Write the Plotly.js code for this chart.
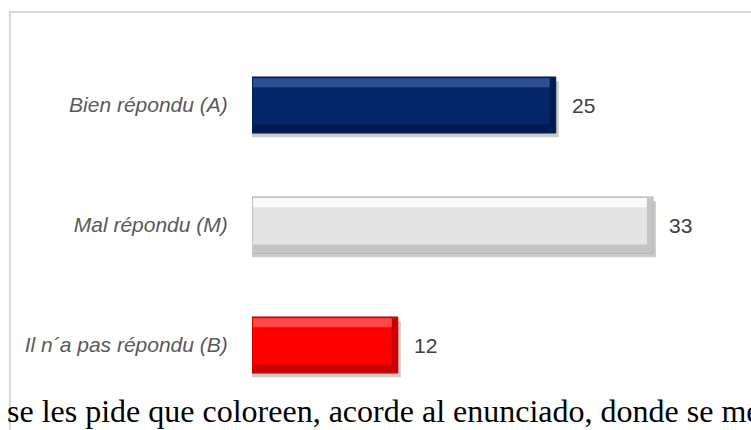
<!DOCTYPE html>
<html>
<head>
<meta charset="utf-8">
<script src="https://cdn.plot.ly/plotly-3.0.1.min.js"></script>
<style>
  html, body { margin: 0; padding: 0; background: #ffffff; }
  #chart { width: 751px; height: 430px; }
</style>
</head>
<body>
<div id="chart"></div>
<script>
// ---- data ----
const categories = ["Bien répondu (A)", "Mal répondu (M)", "Il n´a pas répondu (B)"];
const values = [25, 33, 12];
const footerText = "se les pide que coloreen, acorde al enunciado, donde se me";

// ---- styles ----
const mainColors   = ["#05266b", "#e4e4e4", "#ff0000"];
const topColors    = ["#2d4f90", "#fbfbfb", "#ff4a4a"];
const bottomColors = ["#021b4d", "#c4c4c4", "#c80000"];
const edgeColors   = ["#021a4a", "#a6a6a6", "#b00000"];

const W = 0.467;          // bar thickness (category units)
const H = -W / 2;         // offset
const bevel = 0.45;       // right bevel width in value units

const traces = [];
// shadow
traces.push({
  type: 'bar', orientation: 'h', y: categories, x: values.map(v => v + 0.25),
  width: W, offset: H + 0.035,
  marker: { color: 'rgba(0,0,0,0.2)', line: { width: 0 } },
  hoverinfo: 'skip', showlegend: false
});
// main bar
traces.push({
  type: 'bar', orientation: 'h', y: categories, x: values,
  width: W, offset: H,
  marker: { color: mainColors, line: { color: edgeColors, width: 1 } },
  hoverinfo: 'x+y', showlegend: false
});
// top highlight
traces.push({
  type: 'bar', orientation: 'h', y: categories, x: values.map(v => v - 0.2),
  base: values.map(() => 0.1),
  width: 0.075, offset: H + 0.01,
  marker: { color: topColors, line: { width: 0 } },
  hoverinfo: 'skip', showlegend: false
});
// bottom shade
traces.push({
  type: 'bar', orientation: 'h', y: categories, x: values.map(v => v - 0.2),
  base: values.map(() => 0.1),
  width: 0.06, offset: -H - 0.07,
  marker: { color: bottomColors, line: { width: 0 } },
  hoverinfo: 'skip', showlegend: false
});
// right shade
traces.push({
  type: 'bar', orientation: 'h', y: categories, x: values.map(() => bevel),
  base: values.map(v => v - bevel - 0.05),
  width: W - 0.02, offset: H + 0.01,
  marker: { color: bottomColors, line: { width: 0 } },
  hoverinfo: 'skip', showlegend: false
});

const annotations = categories.map((c, i) => ({
  x: values[i], y: c, xref: 'x', yref: 'y',
  text: String(values[i]), showarrow: false,
  xanchor: 'left', xshift: 14,
  font: { family: 'Liberation Sans, Arial, sans-serif', size: 21, color: '#404040' }
}));
annotations.push({
  xref: 'paper', yref: 'paper', x: -0.508, y: -0.018,
  xanchor: 'left', yanchor: 'middle', showarrow: false,
  text: footerText,
  font: { family: 'Liberation Serif, Times New Roman, serif', size: 32, color: '#000000' }
});

const layout = {
  width: 751, height: 430,
  margin: { l: 252, r: 13, t: 45, b: 25, pad: 0 },
  paper_bgcolor: '#ffffff', plot_bgcolor: 'rgba(0,0,0,0)',
  barmode: 'overlay',
  showlegend: false,
  xaxis: {
    range: [0, 40], visible: false, fixedrange: true
  },
  yaxis: {
    type: 'category', categoryorder: 'array', categoryarray: categories,
    autorange: 'reversed',
    showgrid: false, zeroline: false, showline: false,
    ticks: 'outside', ticklen: 19, tickcolor: 'rgba(0,0,0,0)',
    tickfont: { family: 'Liberation Sans, Arial, sans-serif', size: 21, color: '#595959', style: 'italic' },
    fixedrange: true
  },
  shapes: [{
    type: 'rect', xref: 'paper', yref: 'paper',
    x0: -0.498, x1: 1.2, y0: -0.2, y1: 1.0917,
    line: { color: '#d9d9d9', width: 2 }, fillcolor: 'rgba(0,0,0,0)', layer: 'below'
  }],
  annotations: annotations
};

Plotly.newPlot('chart', traces, layout, { displayModeBar: false, staticPlot: true });
</script>
</body>
</html>
